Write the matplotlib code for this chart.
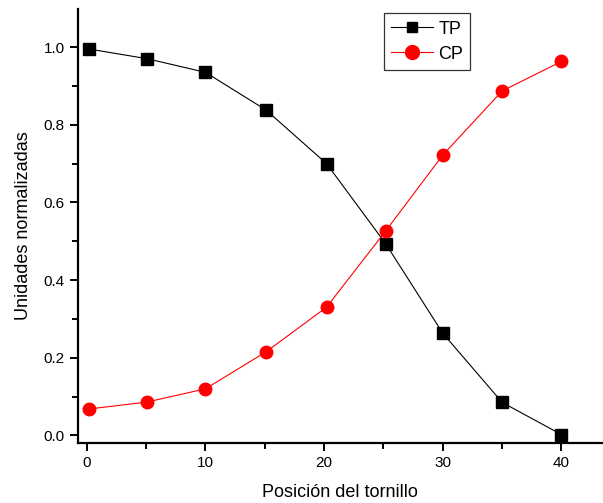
import matplotlib
matplotlib.use("Agg")
import matplotlib.pyplot as plt
from matplotlib.ticker import MultipleLocator

plt.rcParams['font.family'] = ['Liberation Sans', 'DejaVu Sans']

# data
posicion = [0.2, 5.1, 10.0, 15.1, 20.2, 25.2, 30.0, 35.0, 40.0]
tp = [0.995, 0.970, 0.935, 0.838, 0.700, 0.493, 0.263, 0.085, 0.002]
cp = [0.068, 0.086, 0.120, 0.215, 0.330, 0.527, 0.722, 0.887, 0.963]

fig = plt.figure(figsize=(6.03, 5.03), dpi=100)
ax = fig.add_axes([0.129, 0.119, 0.871, 0.863])

ax.plot(posicion, tp, color='black', lw=0.8, marker='s', ms=8.5, label='TP')
ax.plot(posicion, cp, color='red', lw=0.8, marker='o', ms=9, label='CP')

ax.set_xlim(-0.76, 43.5)
ax.set_ylim(-0.02, 1.098)

ax.xaxis.set_major_locator(MultipleLocator(10))
ax.xaxis.set_minor_locator(MultipleLocator(5))
ax.yaxis.set_major_locator(MultipleLocator(0.2))
ax.yaxis.set_minor_locator(MultipleLocator(0.1))
ax.yaxis.set_major_formatter(matplotlib.ticker.FormatStrFormatter('%.1f'))

for s in ['top', 'right']:
    ax.spines[s].set_visible(False)
for s in ['left', 'bottom']:
    ax.spines[s].set_linewidth(1.6)

ax.tick_params(which='major', direction='out', length=6, width=1.4, labelsize=11)
ax.tick_params(which='minor', direction='out', length=4, width=1.4)

ax.set_xlabel('Posición del tornillo', fontsize=13, labelpad=10)
ax.set_ylabel('Unidades normalizadas', fontsize=13, labelpad=8)

leg = ax.legend(loc='upper left', bbox_to_anchor=(0.583, 0.99), fontsize=13,
                fancybox=False, edgecolor='#333333', framealpha=1,
                handlelength=2.3, handletextpad=0.3, borderpad=0.4,
                labelspacing=0.45, borderaxespad=0)
leg.get_frame().set_linewidth(0.9)
leg.legend_handles[0].set_markersize(7)
leg.legend_handles[1].set_markersize(10)

plt.savefig('out.png', dpi=100)
